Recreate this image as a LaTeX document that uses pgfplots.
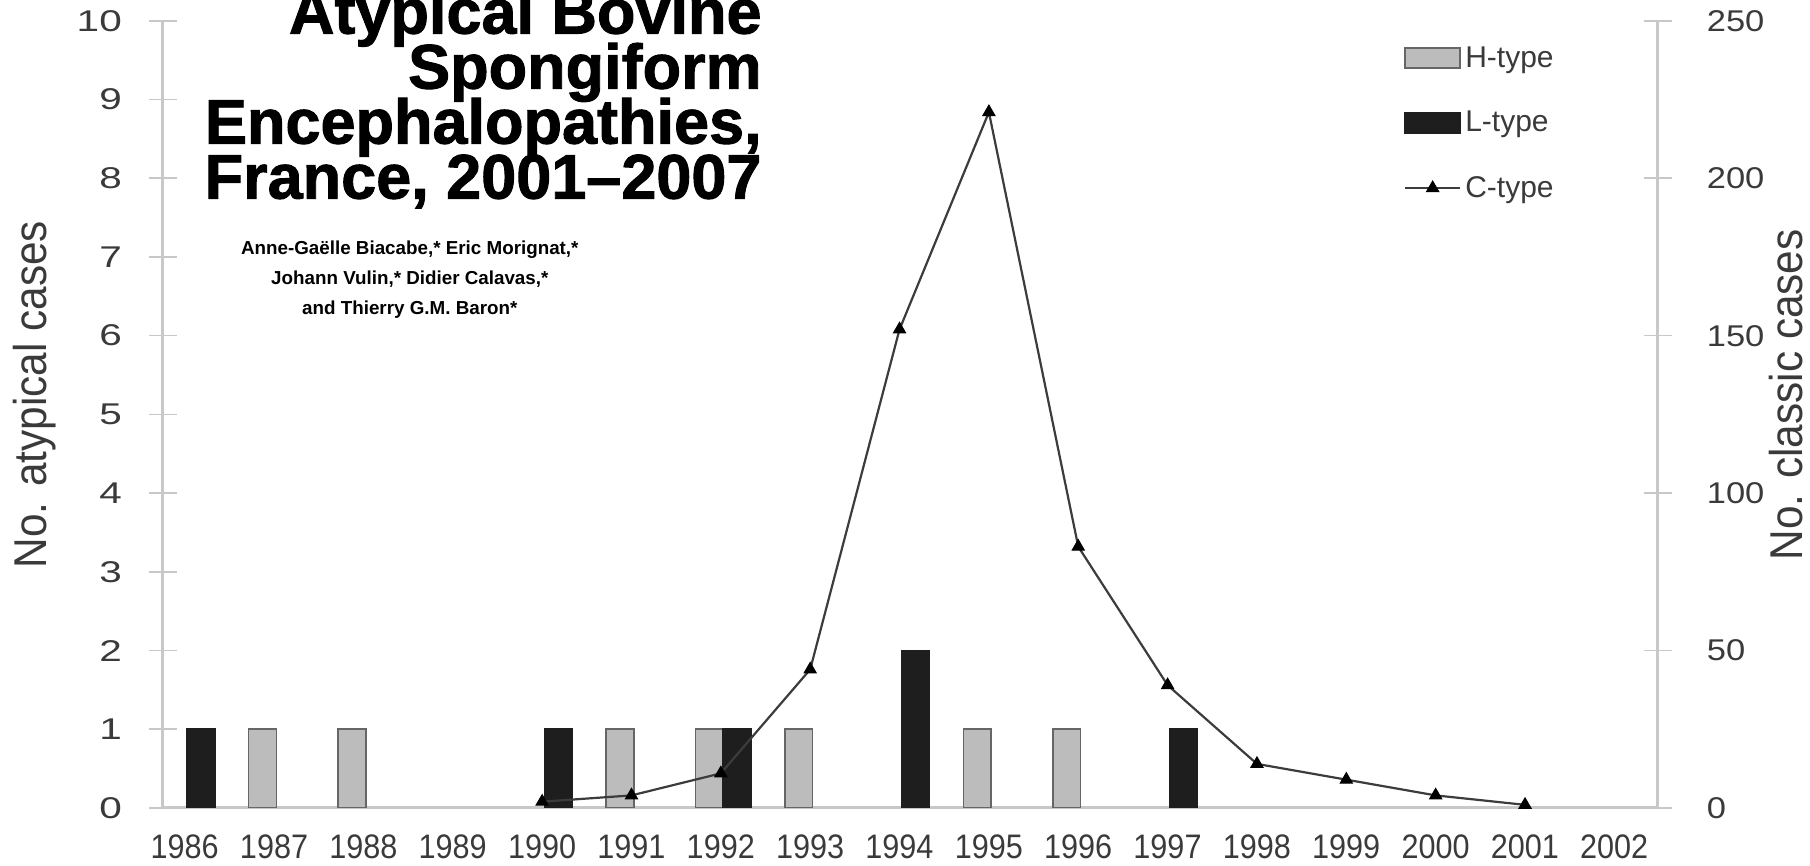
\documentclass[border=0pt]{standalone}
\usepackage{fontspec}
\setmainfont{Liberation Sans}
\newfontfamily\xtf{Liberation Sans}[FakeStretch=0.9]
\newfontfamily\ytf{Liberation Sans}[FakeStretch=1.35]
\newfontfamily\yrf{Liberation Sans}[FakeStretch=1.15]
\newfontfamily\lbf{Liberation Sans}[FakeStretch=0.92]
\newfontfamily\ttf{Liberation Sans}[BoldFeatures={FakeBold=1.5}]
\usepackage{pgfplots}
\pgfplotsset{compat=1.18}

\definecolor{tk}{HTML}{3A3A3A}
\definecolor{axgray}{HTML}{C8C8C8}
\definecolor{lc}{HTML}{3C3C3C}
\definecolor{hfill}{HTML}{BCBCBC}
\definecolor{hdraw}{HTML}{666666}
\definecolor{lfill}{HTML}{1E1E1E}

\pgfplotsset{
  common/.style={
    at={(81.4pt,29pt)}, anchor=south west,
    width=747.5pt, height=393.6pt, scale only axis,
    xmin=1985.755, xmax=2002.486,
    /pgf/number format/assume math mode=true,
    tick align=center, major tick length=14pt,
    axis line style={draw=axgray, line width=1.5pt},
    y tick style={draw=axgray, line width=0.8pt},
    major x tick style={draw=none},
    y tick label style={text=tk},
    ylabel style={font=\lbf\fontsize{23}{23}\selectfont, text=tk},
  },
  clegend/.style={legend image code/.code={%
    \draw[##1, mark repeat=2, mark phase=2] plot coordinates {(0pt,0pt) (13.75pt,0pt) (27.5pt,0pt)};}},
}

\begin{document}
\begin{tikzpicture}
\useasboundingbox (0,0) rectangle (905pt,433pt);

% atypical cases (bars)
\begin{axis}[common,
    ymin=0, ymax=10, ytick={0,1,...,10},
    axis y line*=left, axis x line*=bottom,
    xtick={1986,1987,...,2002},
    x tick label style={font=\xtf\fontsize{17}{17}\selectfont, text=tk,
      /pgf/number format/1000 sep={}, yshift=-3pt},
    y tick label style={font=\ytf\fontsize{15}{15}\selectfont, xshift=-10pt},
    ylabel={No. atypical cases},
    ylabel style={at={(rel axis cs:-0.0856,0.525)}, anchor=center},
]
\addplot[ybar, bar width=13.85pt, bar shift=-5.75pt, fill=hfill, draw=hdraw, line width=0.8pt]
  coordinates {(1987,1) (1988,1) (1991,1) (1992,1) (1993,1) (1995,1) (1996,1)};
\addplot[ybar, bar width=13.85pt, bar shift=8.1pt, fill=lfill, draw=lfill, line width=0.8pt]
  coordinates {(1986,1) (1990,1) (1992,1) (1994,2) (1997,1)};
\end{axis}

% classic cases (line)
\begin{axis}[common,
    ymin=0, ymax=250, ytick={0,50,...,250},
    axis y line*=right, axis x line=none,
    y tick label style={font=\yrf\fontsize{15}{15}\selectfont, xshift=14pt},
    ylabel={No. classic cases},
    ylabel style={at={(rel axis cs:1.0858,0.525)}, anchor=center},
    legend style={draw=none, fill=none, at={(rel axis cs:0.83,0.973)}, anchor=north west,
      font=\fontsize{15}{15}\selectfont, text=tk, row sep=16.6pt, inner sep=0pt},
    legend cell align=left,
]
\addlegendimage{legend image code/.code={\draw[fill=hfill,draw=hdraw,line width=0.8pt] (0pt,-5pt) rectangle (27.5pt,5pt);}}
\addlegendentry{H-type}
\addlegendimage{legend image code/.code={\draw[fill=lfill,draw=lfill,line width=0.8pt] (0pt,-5pt) rectangle (27.5pt,5pt);}}
\addlegendentry{L-type}
\addplot[color=lc, line width=1.1pt, mark=triangle*, mark size=3.5pt,
    mark options={fill=black, draw=black, line width=0.5pt}, clegend]
  coordinates {(1990,2) (1991,4) (1992,11) (1993,44) (1994,152) (1995,221)
               (1996,83) (1997,39) (1998,14) (1999,9) (2000,4) (2001,1)};
\addlegendentry{C-type}
\end{axis}

% title block
\begin{scope}[every node/.style={anchor=base east, inner sep=0pt, font=\ttf\bfseries\fontsize{31.5}{31.5}\selectfont}]
\node at (381pt,416.2pt) {Atypical Bovine};
\node at (381pt,388.7pt) {Spongiform};
\node at (381pt,361.2pt) {Encephalopathies,};
\node at (381pt,333.7pt) {France, 2001–2007};
\end{scope}
\begin{scope}[every node/.style={anchor=base, inner sep=0pt, font=\bfseries\fontsize{9.4}{9.4}\selectfont}]
\node at (204.9pt,305.5pt) {Anne-Gaëlle Biacabe,* Eric Morignat,*};
\node at (204.9pt,290.5pt) {Johann Vulin,* Didier Calavas,*};
\node at (204.9pt,275.5pt) {and Thierry G.M. Baron*};
\end{scope}
\end{tikzpicture}
\end{document}
